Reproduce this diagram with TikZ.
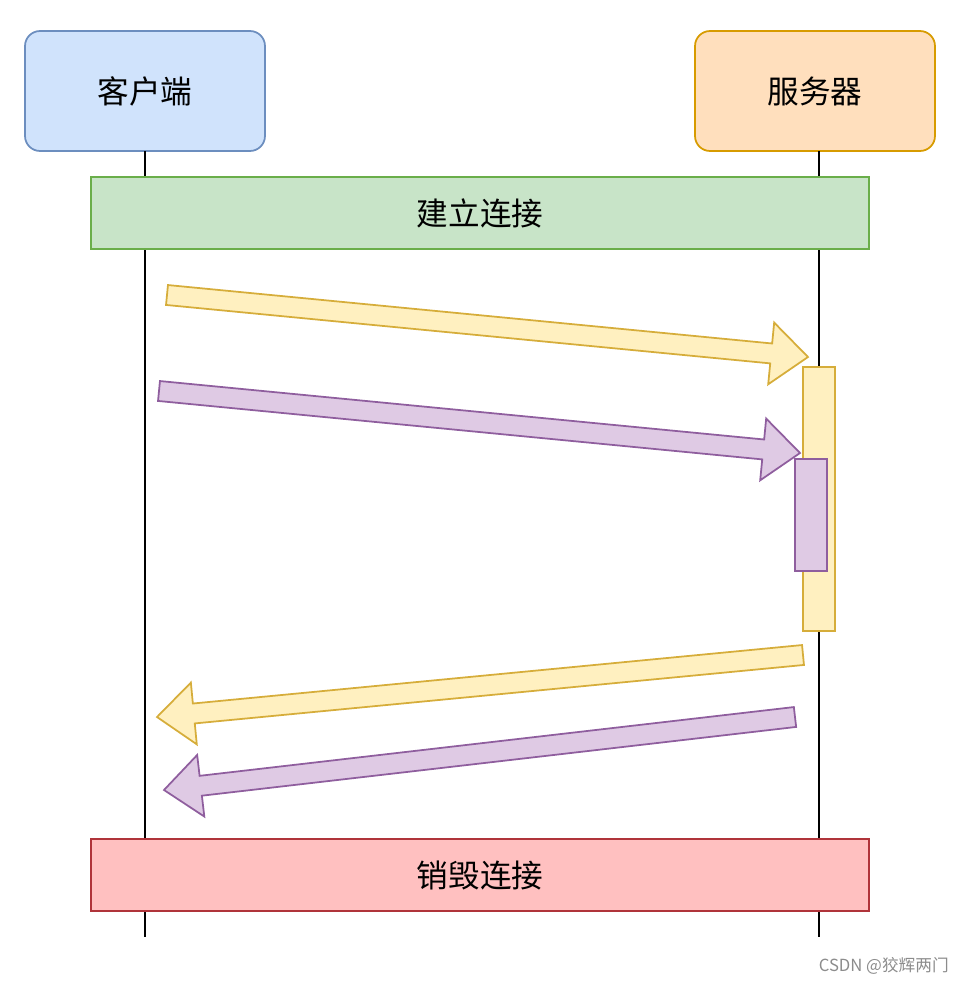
\documentclass[tikz,border=0pt]{standalone}
\usepackage{fontspec}
\setmainfont{Noto Sans CJK SC}
\usetikzlibrary{calc, positioning}

\definecolor{clientfill}{HTML}{D0E3FC}
\definecolor{clientline}{HTML}{6C8EBF}
\definecolor{serverfill}{HTML}{FFDFBD}
\definecolor{serverline}{HTML}{D79B00}
\definecolor{openfill}{HTML}{C8E4C8}
\definecolor{openline}{HTML}{6AAE4A}
\definecolor{closefill}{HTML}{FFC0C0}
\definecolor{closeline}{HTML}{B0343A}
\definecolor{yelfill}{HTML}{FFF0C0}
\definecolor{yelline}{HTML}{D6AD3A}
\definecolor{purfill}{HTML}{DFCAE4}
\definecolor{purline}{HTML}{8F5E9E}

% flat block arrow: style, tail, tip
\newcommand{\blockarrow}[3]{%
  \coordinate (ah) at ($(#3)!0.74cm!(#2)$);
  \filldraw[#1] ($(#2)!0.2cm!90:(#3)$) -- ($(ah)!0.2cm!90:(#3)$)
    -- ($(ah)!0.62cm!90:(#3)$) -- (#3) -- ($(ah)!0.62cm!-90:(#3)$)
    -- ($(ah)!0.2cm!-90:(#3)$) -- ($(#2)!0.2cm!-90:(#3)$) -- cycle;
}

\begin{document}
\begin{tikzpicture}[x=0.02cm, y=-0.02cm,
    party/.style={rectangle, draw, line width=1pt, rounded corners=0.3cm,
      minimum width=4.8cm, minimum height=2.4cm, font=\fontsize{18}{21}\selectfont},
    phase/.style={rectangle, draw, line width=1pt, minimum width=15.56cm,
      minimum height=1.44cm, font=\fontsize{18}{21}\selectfont},
    actbox/.style={rectangle, draw, line width=1pt, minimum width=0.64cm},
    yelarrow/.style={fill=yelfill, draw=yelline, line width=1pt, line join=miter},
    purarrow/.style={fill=purfill, draw=purline, line width=1pt, line join=miter}]
  \useasboundingbox (0,0) rectangle (968,984);

  % Define parties
  \node [party, fill=clientfill, draw=clientline] (client) at (145,91) {客户端};
  \node [party, fill=serverfill, draw=serverline] (server) at (815,91) {服务器};

  % Lifelines
  \coordinate (clienttop) at (145,151);
  \coordinate (clientend) at (145,937);
  \coordinate (servertop) at (819,151);
  \coordinate (serverend) at (819,937);
  \draw [line width=1pt] (clienttop) -- (clientend);
  \draw [line width=1pt] (servertop) -- (serverend);

  % Phases
  \node [phase, fill=openfill, draw=openline] (open) at (480,213) {建立连接};
  \node [phase, fill=closefill, draw=closeline] (close) at (480,875) {销毁连接};

  % Activations
  \node [actbox, minimum height=5.28cm, fill=yelfill, draw=yelline] (act1) at (819,499) {};
  \node [actbox, minimum height=2.24cm, fill=purfill, draw=purline] (act2) at (811,515) {};

  % Messages
  \coordinate (req1s) at (167,295);
  \coordinate (req1e) at (808,357);
  \coordinate (req2s) at (159,391);
  \coordinate (req2e) at (800,453);
  \coordinate (res1s) at (803,655);
  \coordinate (res1e) at (157,717);
  \coordinate (res2s) at (795,717);
  \coordinate (res2e) at (164,790);
  \blockarrow{yelarrow}{req1s}{req1e}
  \blockarrow{purarrow}{req2s}{req2e}
  \blockarrow{yelarrow}{res1s}{res1e}
  \blockarrow{purarrow}{res2s}{res2e}

  \node [anchor=east, text=black!45, font=\fontsize{9.5}{11}\selectfont] (mark) at (955,966) {CSDN @狡辉两门};
\end{tikzpicture}
\end{document}
